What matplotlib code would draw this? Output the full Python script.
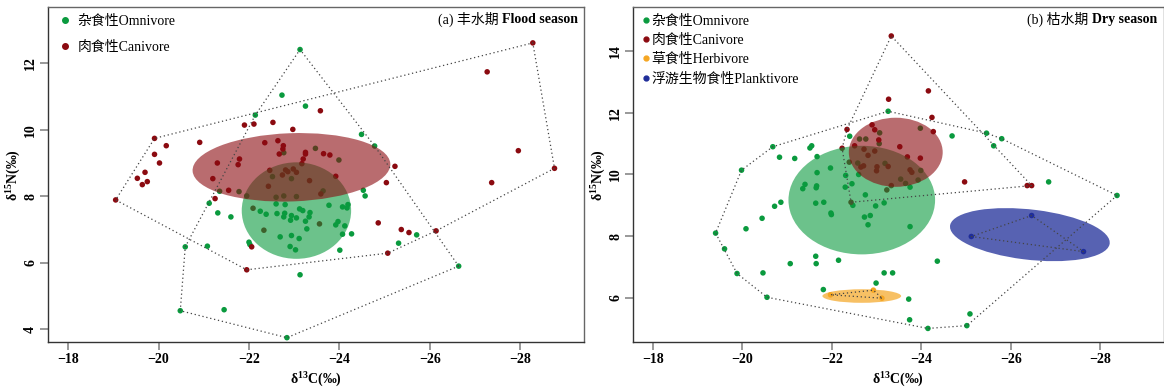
import matplotlib
matplotlib.use("Agg")
import matplotlib.pyplot as plt
from matplotlib.patches import Ellipse
from matplotlib.lines import Line2D
import numpy as np

# ---------------- data ----------------
# (a) flood season
flood_omn_x = [-23.13, -22.73, -23.25, -22.14, -24.49, -24.78, -22.77, -23.47, -23.99, -22.52,
               -22.94, -21.35, -21.78, -21.95, -22.60, -22.77, -23.05, -23.64, -24.53, -24.57,
               -21.12, -21.31, -21.60, -20.59, -21.08, -20.48, -21.45, -22.84, -23.13, -26.64,
               -25.31, -25.71, -24.01, -24.07, -24.27, -24.12, -23.97, -23.92, -24.07, -24.17,
               -24.19, -22.00, -22.02, -22.69, -22.94, -23.11, -22.91, -23.03, -23.28, -22.92,
               -23.05, -23.25, -23.33, -22.77, -22.94, -22.62, -22.38, -22.25, -22.79, -23.12,
               -23.19, -23.35, -22.80, -22.60, -23.77]
flood_omn_y = [12.41, 11.04, 10.71, 10.44, 9.86, 9.51, 9.31, 9.44, 9.09, 8.59,
               8.53, 8.15, 8.14, 8.01, 7.97, 8.01, 7.99, 8.16, 8.18, 8.01,
               7.79, 7.50, 7.38, 6.48, 6.50, 4.56, 4.59, 3.75, 5.64, 5.90,
               6.59, 6.84, 6.38, 6.86, 6.87, 7.11, 7.24, 7.14, 7.68, 7.65,
               7.75, 6.62, 6.55, 6.78, 6.82, 6.73, 6.49, 6.39, 7.02, 7.28,
               7.35, 7.25, 7.38, 7.38, 7.42, 7.48, 7.46, 7.55, 7.49, 7.62,
               7.57, 7.51, 7.75, 7.77, 7.73]

flood_car_x = [-28.28, -27.27, -27.96, -28.76, -27.37, -25.23, -25.04, -23.58, -21.90, -22.11,
               -22.53, -22.97, -22.35, -22.64, -22.76, -22.75, -22.67, -23.25, -23.25, -23.65,
               -23.79, -20.91, -19.91, -20.17, -19.91, -20.02, -19.70, -19.53, -19.64, -19.75,
               -19.05, -21.30, -21.79, -21.76, -21.20, -21.55, -21.25, -22.46, -22.81, -22.98,
               -22.74, -22.86, -23.05, -23.20, -23.17, -23.34, -23.92, -23.59, -22.43, -22.09,
               -22.33, -23.56, -22.06, -21.95, -24.86, -25.37, -25.54, -26.14, -25.07]
flood_car_y = [12.61, 11.74, 9.37, 8.84, 8.41, 8.90, 8.41, 10.57, 10.14, 10.17,
               10.22, 10.01, 9.61, 9.67, 9.52, 9.42, 9.27, 9.32, 9.27, 9.28,
               9.24, 9.62, 9.74, 9.52, 9.26, 9.00, 8.72, 8.54, 8.35, 8.44,
               7.89, 9.00, 9.12, 8.95, 8.53, 8.18, 7.93, 8.78, 8.79, 8.82,
               8.64, 8.74, 8.72, 9.12, 8.98, 8.47, 8.60, 8.07, 8.30, 7.64,
               6.98, 7.17, 6.48, 5.79, 7.20, 7.00, 6.91, 6.96, 6.29]

# (b) dry season
dry_omn_x = [-23.26, -24.69, -25.46, -25.80, -25.62, -22.40, -20.68, -21.55, -21.51, -20.83,
             -21.17, -21.67, -19.98, -21.97, -21.67, -22.31, -22.45, -22.30, -21.40, -21.35,
             -21.66, -21.65, -22.75, -23.75, -26.85, -28.38, -23.98, -23.07, -22.62, -22.76,
             -23.06, -22.58, -23.19, -22.60, -23.99, -23.93, -23.54, -23.65, -22.47, -22.98,
             -23.17, -21.64, -21.82, -20.72, -20.86, -21.98, -21.99, -22.73, -22.86, -22.81,
             -23.75, -20.44, -20.08, -19.40, -19.60, -19.88, -20.46, -20.55, -21.64, -21.65,
             -21.07, -22.15, -24.36, -23.17, -23.36, -22.99, -21.81, -23.72, -23.74, -24.15,
             -25.02, -25.09]
dry_omn_y = [12.05, 11.25, 11.34, 11.16, 10.93, 11.24, 10.90, 10.93, 10.86, 10.56,
             10.52, 10.58, 10.14, 10.21, 10.06, 9.97, 9.70, 9.59, 9.68, 9.54,
             9.63, 9.57, 9.34, 9.59, 9.76, 9.32, 11.50, 11.35, 11.15, 11.15,
             11.00, 10.37, 10.36, 10.00, 10.13, 9.82, 9.85, 9.71, 9.00, 8.98,
             9.08, 9.07, 9.10, 8.97, 9.10, 8.75, 8.70, 8.62, 8.67, 8.37,
             8.31, 8.58, 8.24, 8.10, 7.59, 6.79, 6.81, 6.02, 7.35, 7.11,
             7.11, 7.22, 7.19, 6.81, 6.81, 6.48, 6.27, 5.96, 5.29, 5.01,
             5.10, 5.48]

dry_car_x = [-23.33, -24.16, -23.27, -24.24, -24.27, -22.34, -22.90, -22.96, -23.05, -23.52,
             -22.23, -22.51, -22.72, -22.96, -22.81, -23.69, -23.98, -22.39, -22.71, -22.65,
             -23.01, -23.26, -23.75, -23.79, -23.00, -23.33, -23.23, -24.97, -26.37, -26.47,
             -22.43]
dry_car_y = [14.49, 12.71, 12.44, 11.85, 11.39, 11.46, 11.61, 11.45, 11.12, 10.90,
             10.85, 10.93, 10.82, 10.76, 10.62, 10.57, 10.53, 10.40, 10.28, 10.24,
             10.25, 10.26, 10.15, 10.07, 10.12, 9.64, 9.50, 9.76, 9.64, 9.64,
             9.10]

dry_herb_x = [-21.97, -22.93, -23.12]
dry_herb_y = [6.10, 6.25, 5.99]

dry_plank_x = [-25.12, -26.47, -27.63]
dry_plank_y = [7.99, 8.67, 7.50]

# standard ellipses: centre x, centre y, width, height, angle (deg)
flood_ell_omn = [-23.05, 7.57, 2.42, 2.90, 0]
flood_ell_car = [-22.94, 8.87, 4.38, 2.05, -3]
dry_ell_omn = [-22.67, 9.17, 3.28, 3.52, 0]
dry_ell_car = [-23.43, 10.72, 2.10, 2.24, 0]
dry_ell_herb = [-22.67, 6.06, 1.76, 0.44, 0]
dry_ell_plank = [-26.43, 8.05, 3.62, 1.62, 10.3]

groups = ["杂食性Omnivore", "肉食性Canivore", "草食性Herbivore", "浮游生物食性Planktivore"]

# ---------------- style ----------------
c_omn = "#0a9a3e"
c_car = "#8b0a10"
c_herb = "#f5a623"
c_plank = "#1f2d99"

plt.rcParams['font.family'] = ['Liberation Serif', 'Noto Sans CJK SC']
plt.rcParams['mathtext.fontset'] = 'custom'
plt.rcParams['mathtext.rm'] = 'Liberation Serif'
plt.rcParams['mathtext.bf'] = 'Liberation Serif:bold'


def hull(x, y):
    # simple monotone chain convex hull
    pts = sorted(set(zip(x, y)))
    def cross(o, a, b):
        return (a[0]-o[0])*(b[1]-o[1]) - (a[1]-o[1])*(b[0]-o[0])
    lower = []
    for p in pts:
        while len(lower) >= 2 and cross(lower[-2], lower[-1], p) <= 0:
            lower.pop()
        lower.append(p)
    upper = []
    for p in reversed(pts):
        while len(upper) >= 2 and cross(upper[-2], upper[-1], p) <= 0:
            upper.pop()
        upper.append(p)
    h = lower[:-1] + upper[:-1]
    h.append(h[0])
    return np.array(h)


def draw_group(ax, x, y, color):
    ax.scatter(x, y, s=16, color=color, edgecolors='none', zorder=2)
    h = hull(x, y)
    ax.plot(h[:, 0], h[:, 1], color='#444444', lw=0.9, ls=(0, (1, 2.2)), zorder=4)


def add_ellipse(ax, ell, color, alpha):
    e = Ellipse((ell[0], ell[1]), ell[2], ell[3], angle=ell[4],
                facecolor=color, edgecolor='none', alpha=alpha, zorder=3)
    ax.add_patch(e)


def style_axes(ax, yticks):
    ax.set_xlim(-17.56, -29.42)
    ax.set_xticks([-18, -20, -22, -24, -26, -28])
    ax.set_xticklabels(["\u221218", "\u221220", "\u221222", "\u221224", "\u221226", "\u221228"])
    ax.set_yticks(yticks)
    ax.tick_params(direction='out', length=6, width=1.2, color='#888888',
                   labelsize=10, pad=2)
    for lab in ax.get_xticklabels() + ax.get_yticklabels():
        lab.set_fontweight('bold')
    for lab in ax.get_yticklabels():
        lab.set_rotation(90)
        lab.set_va('center')
    for s in ['left', 'bottom']:
        ax.spines[s].set_color('#333333')
    for s in ['top', 'right']:
        ax.spines[s].set_color('#666666')
    for s in ax.spines.values():
        s.set_linewidth(1.0)
    ax.set_xlabel(r"δ$\mathbf{^{13}}$C(‰)", fontweight='bold', fontsize=10, labelpad=3)
    ax.set_ylabel(r"δ$\mathbf{^{15}}$N(‰)", fontweight='bold', fontsize=10, labelpad=1)


fig = plt.figure(figsize=(11.64, 3.9), dpi=100)
ax1 = fig.add_axes([0.0415, 0.1231, 0.4605, 0.8582])
ax2 = fig.add_axes([0.5441, 0.1231, 0.4555, 0.8582])

# ---- (a) flood season
draw_group(ax1, flood_omn_x, flood_omn_y, c_omn)
draw_group(ax1, flood_car_x, flood_car_y, c_car)
add_ellipse(ax1, flood_ell_omn, c_omn, 0.6)
add_ellipse(ax1, flood_ell_car, c_car, 0.6)
ax1.set_ylim(3.62, 13.68)
style_axes(ax1, [4, 6, 8, 10, 12])

# ---- (b) dry season
draw_group(ax2, dry_omn_x, dry_omn_y, c_omn)
draw_group(ax2, dry_car_x, dry_car_y, c_car)
draw_group(ax2, dry_herb_x, dry_herb_y, c_herb)
draw_group(ax2, dry_plank_x, dry_plank_y, c_plank)
add_ellipse(ax2, dry_ell_omn, c_omn, 0.6)
add_ellipse(ax2, dry_ell_car, c_car, 0.6)
add_ellipse(ax2, dry_ell_herb, c_herb, 0.7)
add_ellipse(ax2, dry_ell_plank, c_plank, 0.75)
ax2.set_ylim(4.57, 15.42)
style_axes(ax2, [6, 8, 10, 12, 14])

# ---- legends
cols = [c_omn, c_car, c_herb, c_plank]
h1 = [Line2D([], [], marker='o', ls='', color=c, markersize=4) for c in cols[:2]]
ax1.legend(h1, groups[:2], loc='upper left', bbox_to_anchor=(0.021, 0.978),
           frameon=False, fontsize=10, handlelength=0.8, handletextpad=0.5,
           labelspacing=0.95, borderpad=0, borderaxespad=0)
h2 = [Line2D([], [], marker='o', ls='', color=c, markersize=3.5) for c in cols]
ax2.legend(h2, groups, loc='upper left', bbox_to_anchor=(0.013, 0.978),
           frameon=False, fontsize=10, handlelength=0.8, handletextpad=0.0,
           labelspacing=0.45, borderpad=0, borderaxespad=0)

# ---- panel titles: normal part + bold part
fig.canvas.draw()
renderer = fig.canvas.get_renderer()
for ax, lead, bold in [(ax1, "(a) 丰水期 ", "Flood season"), (ax2, "(b) 枯水期 ", "Dry season")]:
    tb = ax.text(0.988, 0.952, bold, transform=ax.transAxes, ha='right', va='baseline',
                 fontsize=10, fontweight='bold')
    bb = tb.get_window_extent(renderer)
    xl = ax.transAxes.inverted().transform((bb.x0, bb.y0))[0]
    ax.text(xl, 0.952, lead, transform=ax.transAxes, ha='right', va='baseline', fontsize=10)

fig.savefig("out.png", dpi=100)
